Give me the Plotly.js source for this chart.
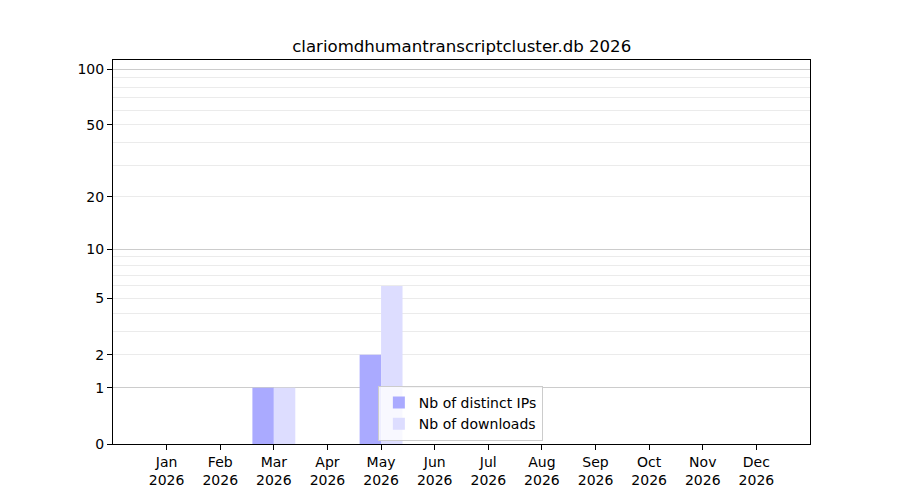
<!DOCTYPE html>
<html>
<head>
<meta charset="utf-8">
<script src="https://cdn.plot.ly/plotly-3.0.1.min.js"></script>
<style>
  html, body { margin: 0; padding: 0; background: #fff; }
  #chart { width: 900px; height: 500px; }
</style>
</head>
<body>
<div id="chart"></div>
<script>
// monthly stats for 2026
const months = ['Jan', 'Feb', 'Mar', 'Apr', 'May', 'Jun', 'Jul', 'Aug', 'Sep', 'Oct', 'Nov', 'Dec']
const year = '2026'
const distinctIPs = [0, 0, 1, 0, 2, 0, 0, 0, 0, 0, 0, 0]
const downloads = [0, 0, 1, 0, 6, 0, 0, 0, 0, 0, 0, 0]

// y axis is log10(1 + n), so everything gets shifted by one
const yTicks = [0, 1, 2, 5, 10, 20, 50, 100]
const majorGrid = [1, 10, 100]
const minorGrid = [2, 3, 4, 5, 6, 7, 8, 9, 20, 30, 40, 50, 60, 70, 80, 90]

const shift = arr => arr.map(v => v + 1)
const labels = months.map(m => m + '<br>' + year)

const font = { family: 'DejaVu Sans, sans-serif', size: 14, color: '#000' }

let traces = [
  {
    type: 'bar',
    name: 'Nb of distinct IPs',
    x: labels,
    y: shift(distinctIPs),
    marker: { color: '#aaaaff', line: { width: 0 } },
    hoverinfo: 'skip'
  },
  {
    type: 'bar',
    name: 'Nb of downloads',
    x: labels,
    y: shift(downloads),
    marker: { color: '#ddddff', line: { width: 0 } },
    hoverinfo: 'skip'
  }
]

const yRange = [0, 2.053]

let layout = {
  width: 900,
  height: 500,
  paper_bgcolor: '#fff',
  plot_bgcolor: 'rgba(0,0,0,0)',
  font: font,
  margin: { l: 113, r: 90, t: 60, b: 56, pad: 0 },
  title: {
    text: 'clariomdhumantranscriptcluster.db ' + year,
    font: { family: 'DejaVu Sans, sans-serif', size: 16.6, color: '#000' },
    xref: 'container', x: 0.513, xanchor: 'center',
    yref: 'container', y: 0.908, yanchor: 'middle'
  },
  barmode: 'group',
  bargap: 0.2,
  bargroupgap: 0,
  xaxis: {
    type: 'category',
    range: [-1, 12],
    showgrid: false,
    showline: true, mirror: true, linecolor: '#000', linewidth: 1,
    ticks: 'outside', ticklen: 5, tickcolor: '#000',
    tickfont: font,
    zeroline: false
  },
  yaxis: {
    type: 'log',
    range: yRange,
    tickmode: 'array',
    tickvals: shift(yTicks),
    ticktext: yTicks.map(String),
    showgrid: false,
    minor: {
      tickmode: 'array',
      tickvals: shift(minorGrid),
      showgrid: true,
      gridcolor: '#ebebeb',
      gridwidth: 1,
      ticks: ''
    },
    showline: true, mirror: true, linecolor: '#000', linewidth: 1,
    ticks: 'outside', ticklen: 5, tickcolor: '#000',
    tickfont: font,
    zeroline: false
  },
  // darker grid at 1, 10, 100
  yaxis2: {
    type: 'log',
    range: yRange,
    overlaying: 'y',
    tickmode: 'array',
    tickvals: shift(majorGrid),
    showticklabels: false,
    showgrid: true,
    gridcolor: '#cccccc',
    gridwidth: 1,
    ticks: '',
    zeroline: false,
    layer: 'below traces'
  },
  legend: {
    x: 0.380, xanchor: 'left',
    y: 0.008, yanchor: 'bottom',
    bgcolor: 'rgba(255,255,255,0.8)',
    bordercolor: '#cccccc',
    borderwidth: 1,
    font: font,
    tracegroupgap: 0
  },
  showlegend: true
}

// empty trace so yaxis2 actually gets drawn
traces.push({
  type: 'scatter', x: [labels[0]], y: [1], yaxis: 'y2',
  mode: 'none', showlegend: false, hoverinfo: 'skip'
})

Plotly.newPlot('chart', traces, layout, { staticPlot: true })
</script>
</body>
</html>
